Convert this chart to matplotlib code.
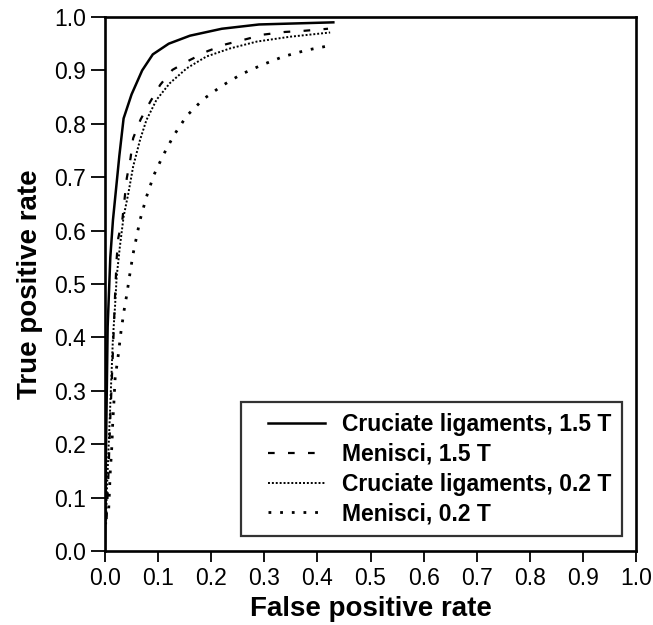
import matplotlib
matplotlib.use("Agg")
import matplotlib.pyplot as plt
from matplotlib.legend_handler import HandlerLine2D

plt.rcParams['font.family'] = ['Liberation Sans', 'DejaVu Sans']

# Data
fpr_cl15 = [0, 0.002, 0.005, 0.01, 0.015, 0.02, 0.027, 0.035, 0.05, 0.07, 0.09, 0.12, 0.16, 0.22, 0.29, 0.36, 0.43]
tpr_cl15 = [0, 0.2, 0.42, 0.55, 0.62, 0.67, 0.74, 0.81, 0.855, 0.9, 0.93, 0.95, 0.965, 0.978, 0.986, 0.988, 0.99]

fpr_me15 = [0.003, 0.006, 0.01, 0.014, 0.019, 0.022, 0.025, 0.033, 0.041, 0.048, 0.053, 0.067, 0.085, 0.104, 0.127, 0.159, 0.193, 0.228, 0.264, 0.298, 0.339, 0.373, 0.42]
tpr_me15 = [0.06, 0.13, 0.25, 0.35, 0.48, 0.548, 0.586, 0.623, 0.698, 0.735, 0.773, 0.808, 0.841, 0.873, 0.901, 0.919, 0.936, 0.949, 0.958, 0.967, 0.972, 0.974, 0.978]

fpr_cl02 = [0.002, 0.003, 0.007, 0.011, 0.015, 0.019, 0.022, 0.028, 0.035, 0.044, 0.053, 0.066, 0.078, 0.097, 0.122, 0.154, 0.191, 0.235, 0.286, 0.348, 0.424]
tpr_cl02 = [0.05, 0.1, 0.2, 0.3, 0.4, 0.46, 0.514, 0.57, 0.626, 0.67, 0.72, 0.77, 0.807, 0.845, 0.876, 0.904, 0.926, 0.941, 0.954, 0.963, 0.971]

fpr_me02 = [0.007, 0.01, 0.013, 0.0145, 0.017, 0.019, 0.025, 0.03, 0.036, 0.041, 0.047, 0.053, 0.066, 0.078, 0.092, 0.11, 0.13, 0.154, 0.185, 0.22, 0.257, 0.295, 0.336, 0.38, 0.421]
tpr_me02 = [0.08, 0.15, 0.198, 0.239, 0.283, 0.323, 0.367, 0.41, 0.451, 0.48, 0.52, 0.557, 0.62, 0.663, 0.704, 0.742, 0.779, 0.815, 0.846, 0.871, 0.893, 0.91, 0.926, 0.938, 0.946]

labels = ["Cruciate ligaments, 1.5 T", "Menisci, 1.5 T",
          "Cruciate ligaments, 0.2 T", "Menisci, 0.2 T"]
ticks = [0.0, 0.1, 0.2, 0.3, 0.4, 0.5, 0.6, 0.7, 0.8, 0.9, 1.0]
tick_labels = ["%.1f" % t for t in ticks]


class InsetHandler(HandlerLine2D):
    """Legend line handle drawn only over the right part of the handle box."""
    def get_xdata(self, legend, xdescent, ydescent, width, height, fontsize):
        start = -xdescent + 0.224 * width
        return [start, -xdescent + width], [(start - xdescent + width) / 2]


fig = plt.figure(figsize=(6.53, 6.25), dpi=100)
ax = fig.add_axes([0.1608, 0.1184, 0.8132, 0.8544])

l1, = ax.plot(fpr_cl15, tpr_cl15, color='black', lw=1.8, linestyle='-', label=labels[0])
l2, = ax.plot(fpr_me15, tpr_me15, color='black', lw=1.6, linestyle=(0, (3.0, 6.0)), label=labels[1])
l3, = ax.plot(fpr_cl02, tpr_cl02, color='black', lw=1.4, linestyle=(0, (1, 1)), label=labels[2])
l4, = ax.plot(fpr_me02, tpr_me02, color='black', lw=2.0, linestyle=(0, (1, 3.2)), label=labels[3])

ax.set_xlim(0, 1)
ax.set_ylim(0, 1)
ax.set_xticks(ticks)
ax.set_xticklabels(tick_labels)
ax.set_yticks(ticks)
ax.set_yticklabels(tick_labels)
ax.tick_params(axis='x', direction='out', length=8, width=1.3, labelsize=16.5, pad=3.5,
               top=False)
ax.tick_params(axis='y', direction='out', length=10, width=1.3, labelsize=16.5, pad=3.5,
               right=False)
for s in ax.spines.values():
    s.set_linewidth(1.9)

ax.set_xlabel("False positive rate", fontsize=20, fontweight='bold', labelpad=4.5)
ax.set_ylabel("True positive rate", fontsize=20, fontweight='bold', labelpad=8)

h = InsetHandler()
leg = ax.legend(handles=[l1, l2, l3, l4], loc='lower right',
                bbox_to_anchor=(0.974, 0.028), borderaxespad=0,
                prop={'weight': 'bold', 'size': 16.5}, frameon=True,
                fancybox=False, handlelength=3.21, handletextpad=0.74,
                labelspacing=0.3, borderpad=0.46,
                handler_map={l1: h, l2: h, l3: h, l4: h})
leg.get_frame().set_edgecolor('black')
leg.get_frame().set_linewidth(1.6)

fig.savefig("out.png", dpi=100)
